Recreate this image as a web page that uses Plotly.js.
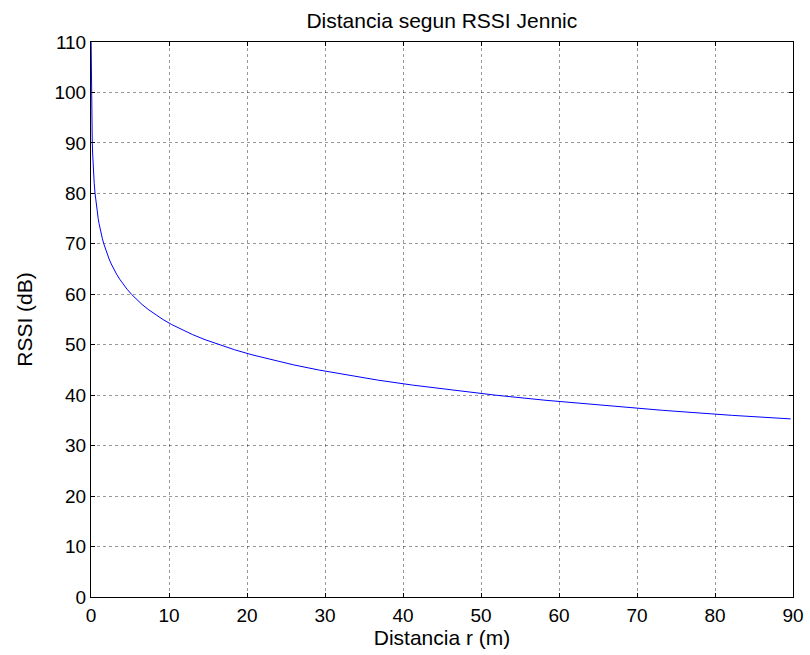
<!DOCTYPE html>
<html>
<head>
<meta charset="utf-8">
<script src="https://cdn.plot.ly/plotly-3.0.1.min.js"></script>
<style>html,body{margin:0;padding:0;background:#fff;}#chart{width:810px;height:655px;}</style>
</head>
<body>
<div id="chart"></div>
<script>
// Distance (m)
var distancia = [0.016, 0.029, 0.052, 0.092, 0.164, 0.206, 0.260, 0.327, 0.412, 0.519,
  0.582, 0.653, 0.733, 0.822, 0.923, 1.035, 1.161, 1.303, 1.462, 1.641,
  1.841, 2.065, 2.318, 2.600, 2.917, 3.273, 3.673, 4.121, 4.624, 5.188,
  5.821, 6.531, 7.328, 8.222, 9.226, 10.35, 11.62, 13.03, 14.62, 16.41,
  18.41, 20.65, 23.17, 26.00, 29.17, 32.73, 36.73, 41.21, 46.24, 51.88,
  58.21, 65.31, 73.28, 82.22, 89.7];
// RSSI (dB)
var rssi = [110, 105, 100, 95, 90, 88, 86, 84, 82, 80,
  79, 78, 77, 76, 75, 74, 73, 72, 71, 70,
  69, 68, 67, 66, 65, 64, 63, 62, 61, 60,
  59, 58, 57, 56, 55, 54, 53, 52, 51, 50,
  49, 48, 47, 46, 45, 44, 43, 42, 41, 40,
  39, 38, 37, 36, 35.3];
var xTicks = [0, 10, 20, 30, 40, 50, 60, 70, 80, 90];
var yTicks = [0, 10, 20, 30, 40, 50, 60, 70, 80, 90, 100, 110];

var font = 'Liberation Sans, Arial, sans-serif';
var axisCommon = {
  showline: true, linecolor: '#000', linewidth: 1, mirror: 'ticks',
  ticks: 'inside', ticklen: 4, tickcolor: '#000', tickwidth: 1,
  showgrid: true, gridcolor: 'rgba(0,0,0,0.4)', griddash: 'dot', gridwidth: 1,
  zeroline: false, tickfont: {family: font, size: 19, color: '#000'}
};
var trace = {x: distancia, y: rssi, type: 'scatter', mode: 'lines',
  line: {color: '#0000ff', width: 1}, hoverinfo: 'skip'};
var layout = {
  width: 810, height: 655,
  margin: {l: 91, r: 17, t: 42, b: 58},
  paper_bgcolor: '#fff', plot_bgcolor: '#fff',
  showlegend: false,
  title: {text: 'Distancia segun RSSI Jennic', font: {family: font, size: 21, color: '#000'}, x: 0.5455, xanchor: 'center', y: 0.969, yanchor: 'middle'}
};
layout.xaxis = Object.assign({}, axisCommon, {range: [0, 90], tickvals: xTicks, ticklabelstandoff: 1,
  title: {text: 'Distancia r (m)', font: {family: font, size: 21, color: '#000'}, standoff: 0}});
layout.yaxis = Object.assign({}, axisCommon, {range: [0, 110], tickvals: yTicks, ticklabelstandoff: 0,
  title: {text: 'RSSI (dB)', font: {family: font, size: 21, color: '#000'}, standoff: 16}});
Plotly.newPlot('chart', [trace], layout, {staticPlot: true, displayModeBar: false});
</script>
</body>
</html>
